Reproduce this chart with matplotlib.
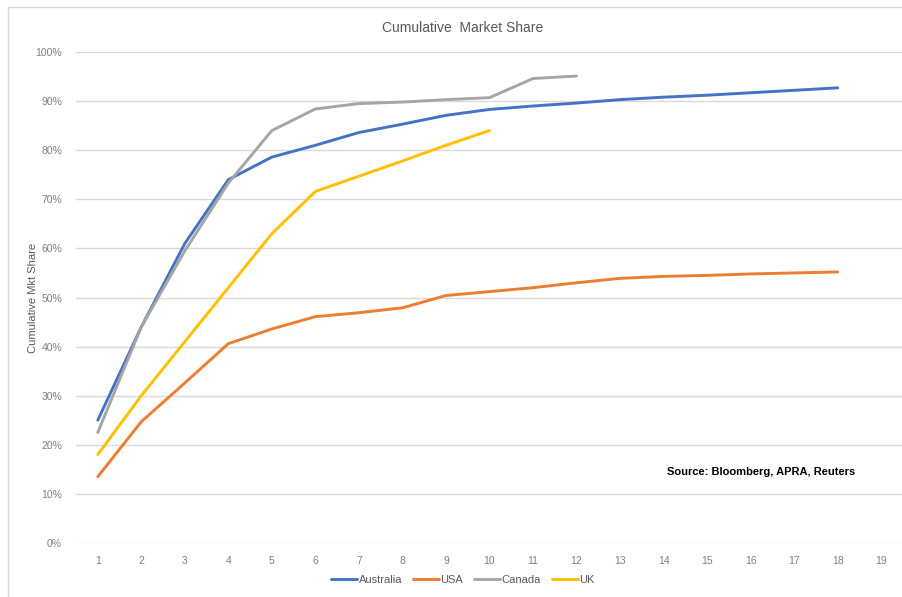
import numpy as np
import matplotlib.pyplot as plt
from matplotlib.patches import Rectangle
from matplotlib.ticker import PercentFormatter

plt.rcParams['font.family'] = ['Liberation Sans', 'DejaVu Sans']

# number of largest institutions counted (x categories)
ranks = list(range(1, 20))

australia = [25.0, 44.0, 61.0, 74.0, 78.6, 81.0, 83.6, 85.3, 87.1, 88.3,
             89.0, 89.6, 90.3, 90.8, 91.2, 91.7, 92.2, 92.7]
usa = [13.5, 24.7, 32.6, 40.6, 43.6, 46.1, 46.9, 47.9, 50.4, 51.2,
       52.0, 53.0, 53.9, 54.3, 54.5, 54.8, 55.0, 55.2]
canada = [22.5, 44.0, 59.5, 73.3, 84.0, 88.4, 89.5, 89.8, 90.3, 90.7,
          94.6, 95.1]
uk = [18.0, 30.0, 41.0, 52.0, 63.0, 71.6, 74.7, 77.8, 81.0, 84.0]

series = [("Australia", australia, "#4472C4"),
          ("USA", usa, "#ED7D31"),
          ("Canada", canada, "#A5A5A5"),
          ("UK", uk, "#FFC000")]

fig = plt.figure(figsize=(9.03, 5.97), dpi=100)
ax = fig.add_axes([76 / 903, 54 / 597, 827 / 903, 491 / 597])

for name, vals, col in series:
    ax.plot(ranks[:len(vals)], vals, color=col, lw=2.1, label=name,
            solid_capstyle='round', solid_joinstyle='round')

ax.set_xlim(0.5, 19.5)
ax.set_ylim(0, 100)
ax.set_xticks(ranks)
ax.set_yticks(np.arange(0, 101, 10))
ax.yaxis.set_major_formatter(PercentFormatter(decimals=0))
ax.tick_params(length=0, labelsize=7.5, labelcolor='#7f7f7f')
ax.tick_params(axis='x', pad=9)
ax.tick_params(axis='y', pad=10)
ax.grid(axis='y', color='#d9d9d9', lw=1)
ax.set_axisbelow(True)
for s in ax.spines.values():
    s.set_visible(False)

ax.set_ylabel('Cumulative Mkt Share', fontsize=8, color='#595959')
ax.yaxis.set_label_coords(-38 / 827, 0.5)

fig.text(463 / 903, 1 - 28 / 597, 'Cumulative  Market Share', ha='center',
         va='center', fontsize=10, color='#595959')

ax.text(0.715, 0.145, 'Source: Bloomberg, APRA, Reuters', transform=ax.transAxes,
        fontsize=8, fontweight='bold', color='black', ha='left', va='center')

ax.legend(loc='center', bbox_to_anchor=(463 / 903, 1 - 580 / 597),
          bbox_transform=fig.transFigure, ncol=4, frameon=False,
          fontsize=8, labelcolor='#595959', handlelength=2.3,
          handletextpad=0.15, columnspacing=1.0)

# light frame around the chart area
fig.patches.append(Rectangle((8 / 903, -0.01), 1.0, 1 - 7 / 597 + 0.01,
                             transform=fig.transFigure, fill=False,
                             edgecolor='#d9d9d9', lw=1))

fig.savefig('out.png', dpi=100)
